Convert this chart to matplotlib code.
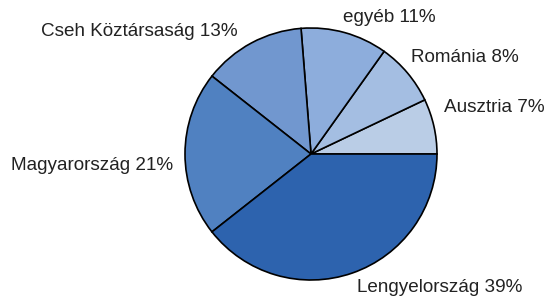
import matplotlib.pyplot as plt
import numpy as np

plt.rcParams['font.family'] = ['Liberation Sans', 'DejaVu Sans']

# Data (counterclockwise from 3 o'clock)
countries = ['Ausztria', 'Románia', 'egyéb', 'Cseh Köztársaság', 'Magyarország', 'Lengyelország']
shares = [7, 8, 11, 13, 21, 39]
colors = ['#bacde6', '#a4bee2', '#8daddc', '#7197cf', '#5081c1', '#2d63ae']

# label anchor points in pixel coords (left x, centre y from top)
label_pos = [(444, 107), (411, 58), (343, 18), (41, 31), (11, 165), (357, 288)]

W, H = 547, 298
fig = plt.figure(figsize=(W / 100, H / 100), dpi=100)
ax = fig.add_axes([0, 0, 1, 1])

ax.pie(shares, colors=colors, startangle=0, counterclock=True,
       center=(311, H - 154), radius=126, frame=True,
       wedgeprops=dict(edgecolor='black', linewidth=1.2))
ax.set_xlim(0, W)
ax.set_ylim(0, H)
ax.set_aspect('equal')
ax.axis('off')

for name, val, (x, y) in zip(countries, shares, label_pos):
    ax.text(x, H - y, '%s %d%%' % (name, val), fontsize=13.6, color='#222222',
            ha='left', va='center')

fig.savefig('out.png', dpi=100)
